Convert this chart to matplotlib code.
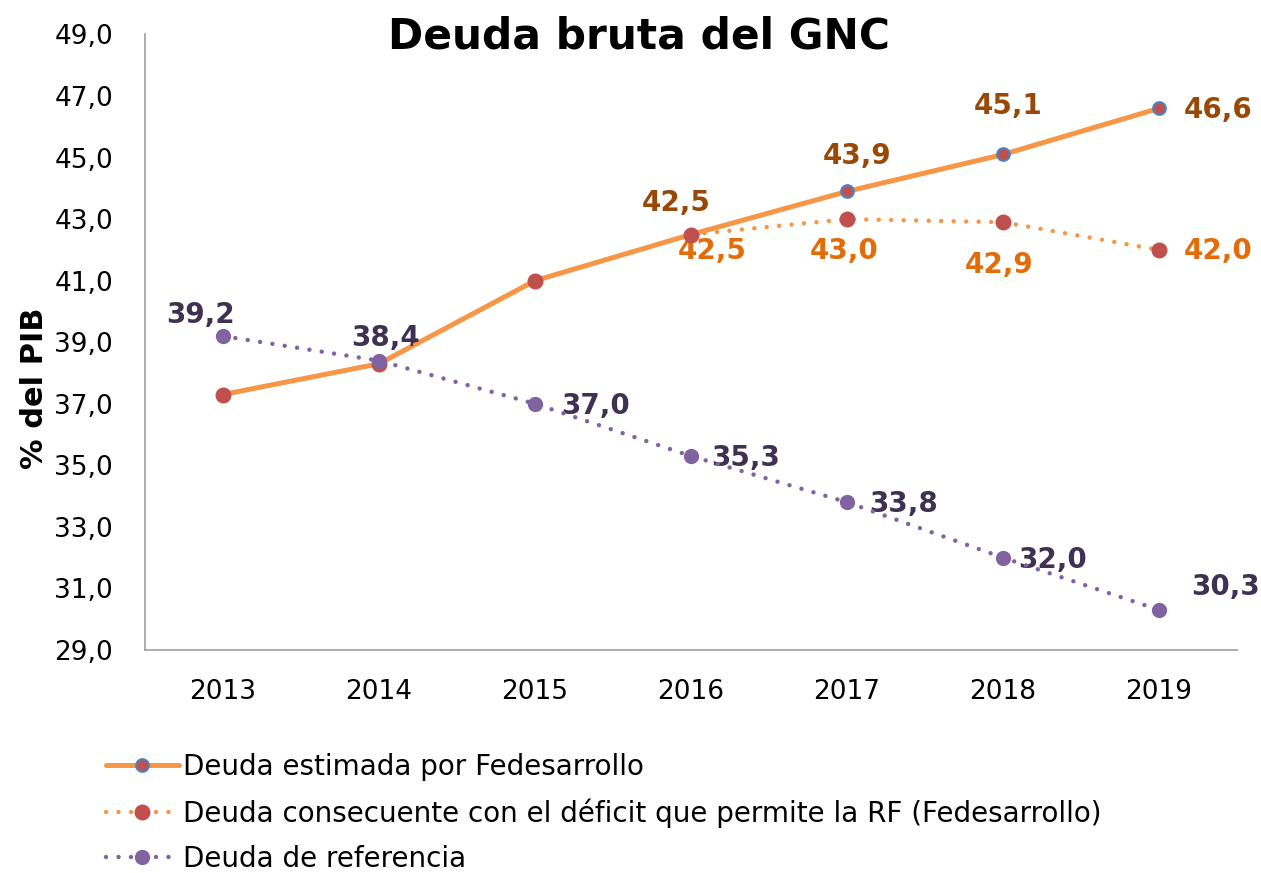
import matplotlib.pyplot as plt

# datos
years = ["2013", "2014", "2015", "2016", "2017", "2018", "2019"]
deuda_estimada = [37.3, 38.3, 41.0, 42.5, 43.9, 45.1, 46.6]
deuda_rf = [37.3, 38.3, 41.0, 42.5, 43.0, 42.9, 42.0]
deuda_ref = [39.2, 38.4, 37.0, 35.3, 33.8, 32.0, 30.3]
yticks = [29, 31, 33, 35, 37, 39, 41, 43, 45, 47, 49]

ORANGE = "#F79646"
RED = "#C0504D"
BLUE = "#4F81BD"
PURPLE = "#8064A2"

plt.rcParams["font.family"] = ["DejaVu Sans"]

fig = plt.figure(figsize=(12.61, 8.73), dpi=100)
ax = fig.add_axes([0.115, 0.2555, 0.866, 0.705])
x = list(range(len(years)))

l1, = ax.plot(x, deuda_estimada, color=ORANGE, lw=3.6, solid_capstyle="round",
              marker="o", ms=9, mfc=RED, mec=BLUE, mew=1.6, zorder=3,
              label="Deuda estimada por Fedesarrollo")
l2, = ax.plot(x, deuda_rf, color=ORANGE, lw=3.2, dashes=(0.01, 2.8), dash_capstyle="round",
              marker="o", ms=11.5, mfc=RED, mec=RED, mew=0, zorder=4,
              label="Deuda consecuente con el déficit que permite la RF (Fedesarrollo)")
l3, = ax.plot(x, deuda_ref, color=PURPLE, lw=3.2, dashes=(0.01, 2.8), dash_capstyle="round",
              marker="o", ms=11, mfc=PURPLE, mec=PURPLE, mew=0, zorder=5,
              label="Deuda de referencia")

def fmt(v):
    return f"{v:.1f}".replace(".", ",")

lbl = dict(fontsize=20, fontweight="bold")
# etiquetas serie estimada (solo 2016 en adelante)
est_off = {3: (-15, 32), 4: (10, 35), 5: (5, 48), 6: (59, -2)}
for i, (dx, dy) in est_off.items():
    ax.annotate(fmt(deuda_estimada[i]), (x[i], deuda_estimada[i]), xytext=(dx, dy),
                textcoords="offset pixels", ha="center", va="center", color="#984807", **lbl)
rf_off = {3: (21, -16), 4: (-3, -32), 5: (-4, -43), 6: (59, -1)}
for i, (dx, dy) in rf_off.items():
    ax.annotate(fmt(deuda_rf[i]), (x[i], deuda_rf[i]), xytext=(dx, dy),
                textcoords="offset pixels", ha="center", va="center", color="#E36C09", **lbl)
ref_off = {0: (-23, 21), 1: (7, 23), 2: (61, -2), 3: (55, -2), 4: (57, -2), 5: (50, -2), 6: (67, 23)}
for i, (dx, dy) in ref_off.items():
    ax.annotate(fmt(deuda_ref[i]), (x[i], deuda_ref[i]), xytext=(dx, dy),
                textcoords="offset pixels", ha="center", va="center", color="#3F3151", **lbl)

ax.set_xlim(-0.5, len(years) - 0.5)
ax.set_ylim(29, 49)
ax.set_xticks(x)
ax.set_xticklabels(years, fontsize=19)
ax.set_yticks(yticks)
ax.set_yticklabels([fmt(v) for v in yticks], fontsize=19)
ax.tick_params(axis="y", length=0, pad=23)
ax.tick_params(axis="x", length=0, pad=21)

for s in ["top", "right"]:
    ax.spines[s].set_visible(False)
for s in ["left", "bottom"]:
    ax.spines[s].set_color("#A6A6A6")
    ax.spines[s].set_linewidth(1.3)

fig.text(0.027, 0.555, "% del PIB", rotation=90, fontsize=22, fontweight="bold",
         ha="center", va="center")
fig.text(0.507, 0.958, "Deuda bruta del GNC", fontsize=30.5, fontweight="bold",
         ha="center", va="center")

fig.legend(handles=[l1, l2, l3], loc="upper left", bbox_to_anchor=(0.0755, 0.150),
           frameon=False, fontsize=20, numpoints=1, handlelength=2.6,
           handletextpad=0.15, labelspacing=0.62, borderaxespad=0)

fig.savefig("out.png", dpi=100)
